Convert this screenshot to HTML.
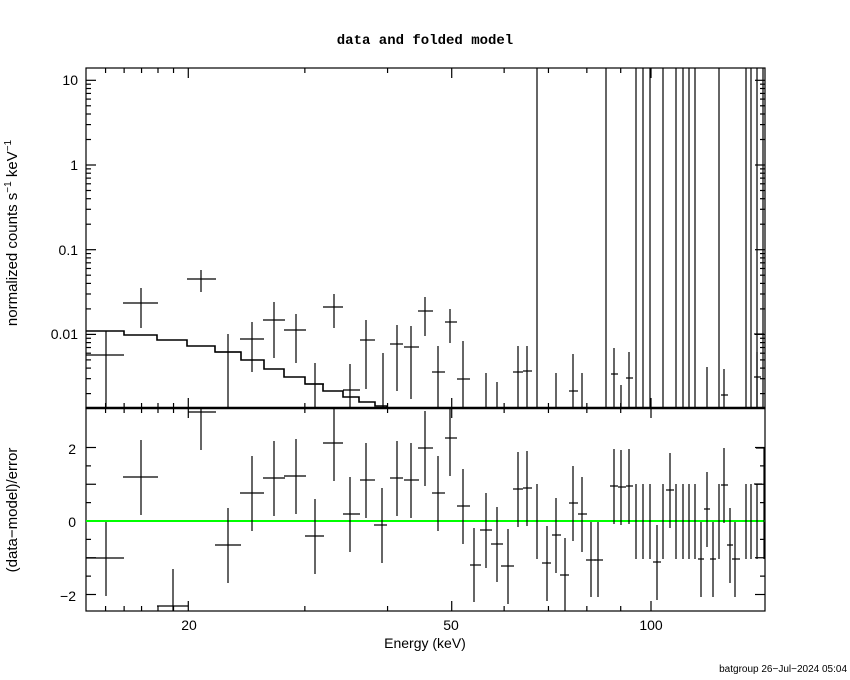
<!DOCTYPE html>
<html><head><meta charset="utf-8"><style>
html,body{margin:0;padding:0;background:#fff;}
svg{display:block;font-family:"DejaVu Sans Mono","Liberation Mono",monospace;}
</style></head><body>
<svg id="s" width="850" height="680" viewBox="0 0 850 680" xmlns="http://www.w3.org/2000/svg">
<rect width="850" height="680" fill="#fff"/>
<text x="425" y="44" font-size="14" text-anchor="middle" font-family="Liberation Mono,monospace" font-weight="bold">data and folded model</text>
<g font-family="Liberation Sans,sans-serif" font-size="14" text-anchor="end">
<text x="78" y="85">10</text><text x="78" y="170">1</text><text x="78" y="255">0.1</text><text x="78" y="339">0.01</text>
<text x="76" y="454">2</text><text x="76" y="527">0</text><text x="76" y="601">−2</text>
</g>
<g font-family="Liberation Sans,sans-serif" font-size="14" text-anchor="middle">
<text x="189" y="630">20</text><text x="451" y="630">50</text><text x="651" y="630">100</text>
<text x="425" y="648">Energy (keV)</text>
<text transform="translate(17,233) rotate(-90)" font-size="15">normalized counts s<tspan font-size="10" dy="-6">−1</tspan><tspan dy="6"> keV</tspan><tspan font-size="10" dy="-6">−1</tspan></text>
<text transform="translate(17,510) rotate(-90)" font-size="15">(data−model)/error</text>
</g>
<text x="847" y="672" font-size="10" text-anchor="end" font-family="Liberation Sans,sans-serif">batgroup 26−Jul−2024 05:04</text>
<g id="g" stroke="#000" fill="none" stroke-width="1.2"></g>
</svg>
<script>
var g=document.getElementById('g'),h='';
function L(x1,y1,x2,y2,w,c){h+='<line x1="'+x1+'" y1="'+y1+'" x2="'+x2+'" y2="'+y2+'"'+(w?' stroke-width="'+w+'"':'')+(c?' stroke="'+c+'"':'')+'/>';}
var X0=86,X1=765,T0=68,T1=408,B1=611;
function ex(E){return 651+662*(Math.log10(E)-2);}
function ty(v){return 165-84.7*Math.log10(v);}
h+='<rect x="86" y="68" width="679" height="340"/><rect x="86" y="408" width="679" height="203"/>';
L(86,408,765,408,2.5);
var Es=[15,16,17,18,19,20,30,40,50,60,70,80,90,100,200];
Es.forEach(function(E){var x=ex(E);if(x<X0||x>X1)return;var m=(E==20||E==50||E==100);var l=m?10:5;
L(x,T0,x,T0+l);L(x,T1-l,x,T1+l);L(x,B1,x,B1-l);});
for(var d=-3;d<=1;d++){for(var k=1;k<=9;k++){var v=k*Math.pow(10,d),y=ty(v);if(y<T0||y>T1)continue;var l=k==1?10:5;L(X0,y,X0+l,y);L(X1,y,X1-l,y);}}
for(var v=-2;v<=2;v+=0.5){var y=521-36.75*v;if(y<408||y>611)continue;var l=(v%1==0)?10:5;L(X0,y,X0+l,y);L(X1,y,X1-l,y);}
var m=[[86,124,331,1.2],[124,157,335,2.2],[157,187,340,2.2],[187,215,346,2.2],[215,241,352,1.2],[241,264,360,1.2],[264,284,369,1.2],[284,305,377,2.2],[305,323,384,1.2],[323,343,391,1.2],[343,359,397,2.2],[359,375,402,1.2],[375,387,406,1.2]];
var p='M86,331';m.forEach(function(s){p+=' L'+s[0]+','+s[2]+' L'+s[1]+','+s[2];});p+=' L387,408';
h+='<path d="'+p+'" stroke-width="1.6"/>';
var td=[[106,355,86,124,331,408],[141,303,123,158,288,328],[201,279,187,216,270,292],[228,352,215,241,334,408],[252,339,240,264,322,372],[274,320,263,285,302,358],[296,330,284,306,314,363],[315,384,305,324,363,408],[334,307,323,343,294,328],[350,390,343,360,364,408],[366,340,360,375,320,389],[383,0,0,0,353,408],[397,344,390,403,325,391],[411,347,404,419,326,399],[425,311,418,433,297,336],[438,372,432,445,346,408],[450,322,445,457,309,343],[463,379,457,470,341,408],[486,0,0,0,373,408],[497,0,0,0,382,408],[518,372,513,523,346,408],[527,371,523,532,346,408],[537,0,0,0,68,408],[556,0,0,0,373,408],[573,391,569,578,354,408],[582,0,0,0,373,408],[606,0,0,0,68,408],[614,374,611,618,348,408],[621,0,0,0,385,408],[629,378,626,633,352,408],[707,0,0,0,367,408],[724,395,721,728,369,408],[757,377,754,761,352,408],[757,334,754,764,68,408]];
[636,643,650,663,676,683,689,695,719,746,751,763].forEach(function(x){td.push([x,0,0,0,68,408]);});
td.forEach(function(d){L(d[0],d[4],d[0],d[5]);if(d[1])L(d[2],d[1],d[3],d[1]);});
L(86,521,765,521,2,'#00ff00');
var bd=[[106,558,86,124,522,596],[141,477,123,158,440,515],[173,606,157,188,569,611],[201,412,188,216,408,450],[228,545,215,241,508,583],[252,493,240,264,456,531],[274,478,263,285,441,516],[296,476,284,306,439,514],[315,536,305,324,499,574],[334,443,323,343,408,481],[350,514,343,360,477,552],[366,480,360,375,443,518],[382,525,374,387,488,563],[397,478,390,403,441,516],[411,480,404,419,443,518],[425,448,418,433,411,486],[438,493,432,445,456,531],[450,438,445,457,408,476],[463,506,457,470,469,544],[474,565,470,481,528,602],[486,530,480,492,493,568],[497,544,491,503,507,582],[508,566,501,514,529,604],[518,489,513,523,452,527],[527,488,523,532,451,526],[537,0,0,0,484,559],[547,563,542,551,526,601],[556,535,552,561,498,573],[565,575,560,569,538,611],[573,503,569,578,466,541],[582,514,578,587,477,552],[591,560,586,596,522,597],[598,560,594,603,522,597],[614,486,610,618,449,524],[621,487,618,626,450,525],[629,486,626,633,449,524],[657,562,653,661,525,600],[670,490,666,674,453,528],[701,559,698,704,522,597],[707,509,704,710,472,547],[713,559,710,716,522,597],[724,485,721,728,448,523],[730,545,727,733,508,583],[735,559,732,740,522,597],[757,484,754,762,484,559]];
[636,643,650,663,676,683,689,695,719,746,751].forEach(function(x){bd.push([x,0,0,0,484,559]);});
bd.forEach(function(d){L(d[0],d[4],d[0],d[5]);if(d[1])L(d[2],d[1],d[3],d[1]);});
h+='<path d="M756,448 L764,448 L764,559"/>';
g.innerHTML=h;
</script>
</body></html>
